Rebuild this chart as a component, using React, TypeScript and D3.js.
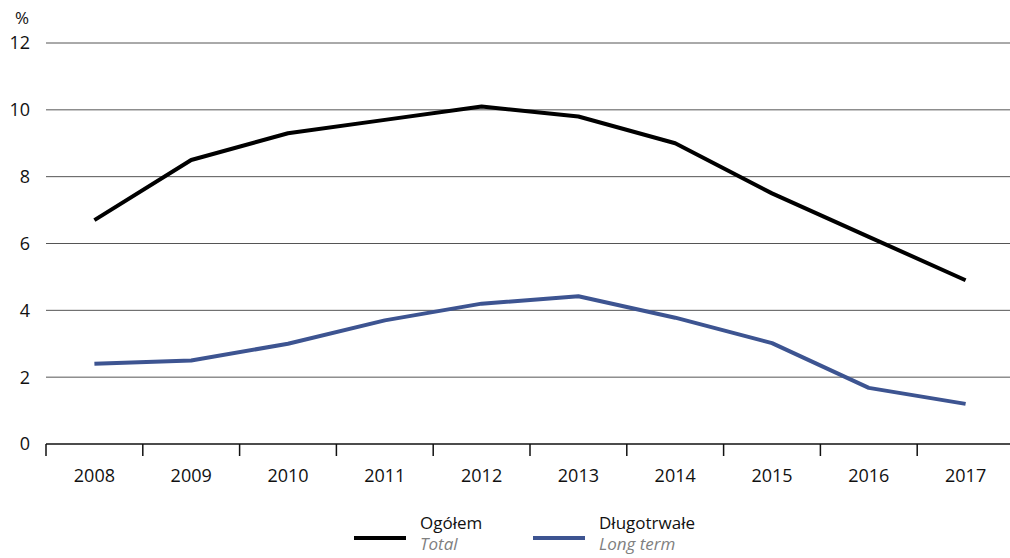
import React from "react";
import * as d3 from "d3";

const years = ["2008", "2009", "2010", "2011", "2012", "2013", "2014", "2015", "2016", "2017"];
const total = [6.7, 8.5, 9.3, 9.7, 10.1, 9.8, 9.0, 7.5, 6.2, 4.9];
const longTerm = [2.4, 2.5, 3.0, 3.7, 4.2, 4.42, 3.78, 3.02, 1.68, 1.2];
const yTicks = [0, 2, 4, 6, 8, 10, 12];

const W = 1010;
const H = 558;
const FONT = "'Open Sans', 'Noto Sans', sans-serif";

export default function App() {
  const x = d3.scaleBand<string>().domain(years).range([46, 1014]);
  const y = d3.scaleLinear().domain([0, 12]).range([444, 43]);
  const cx = (d: string) => (x(d) as number) + x.bandwidth() / 2;
  const line = d3
    .line<number>()
    .x((_, i) => cx(years[i]))
    .y((v) => y(v));

  const tickXs = years.map((d) => x(d) as number);

  return (
    <svg
      width={W}
      height={H}
      style={{ position: "absolute", left: 0, top: 0, background: "#fff" }}
      fontFamily={FONT}
    >
      {yTicks.filter((t) => t > 0).map((t) => (
        <line key={t} x1={46} x2={W} y1={y(t)} y2={y(t)} stroke="#555" strokeWidth={1} />
      ))}
      {yTicks.map((t) => (
        <text key={"l" + t} x={30} y={y(t)} dy="0.36em" textAnchor="end" fontSize={18} fill="#111">
          {t}
        </text>
      ))}
      <text x={22} y={24} textAnchor="middle" fontSize={17} fill="#111">%</text>
      <line x1={46} x2={W} y1={y(0)} y2={y(0)} stroke="#111" strokeWidth={1.5} />
      {tickXs.map((tx, i) => (
        <line key={"t" + i} x1={tx} x2={tx} y1={y(0)} y2={y(0) + 12} stroke="#111" strokeWidth={1.5} />
      ))}
      {years.map((d) => (
        <text key={"x" + d} x={cx(d)} y={482} textAnchor="middle" fontSize={18} fill="#111">
          {d}
        </text>
      ))}
      <path d={line(total) || ""} fill="none" stroke="#000" strokeWidth={4} strokeLinejoin="round" />
      <path d={line(longTerm) || ""} fill="none" stroke="#3d5491" strokeWidth={4} strokeLinejoin="round" />

      <line x1={354} x2={406} y1={538} y2={538} stroke="#000" strokeWidth={4} />
      <text x={420} y={529} fontSize={17} fill="#111">Ogółem</text>
      <text x={420} y={550} fontSize={17} fontStyle="italic" fill="#808080">Total</text>
      <line x1={533} x2={585} y1={538} y2={538} stroke="#3d5491" strokeWidth={4} />
      <text x={599} y={529} fontSize={17} fill="#111">Długotrwałe</text>
      <text x={599} y={550} fontSize={17} fontStyle="italic" fill="#808080">Long term</text>
    </svg>
  );
}
